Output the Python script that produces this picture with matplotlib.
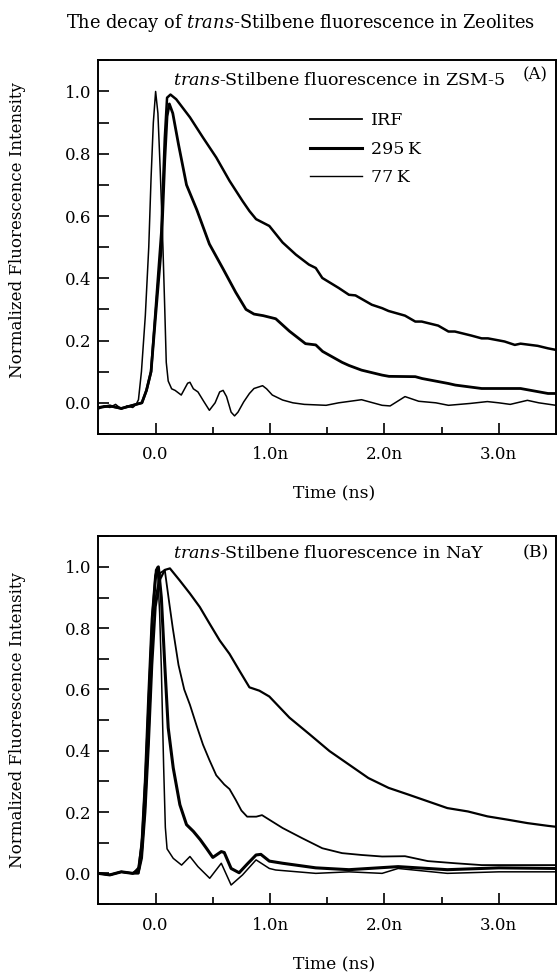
import numpy as np
import matplotlib
matplotlib.use("Agg")
import matplotlib.pyplot as plt
from matplotlib.ticker import MultipleLocator, FixedLocator

plt.rcParams['font.family'] = 'DejaVu Serif'
plt.rcParams['mathtext.fontset'] = 'custom'
plt.rcParams['mathtext.rm'] = 'DejaVu Serif'
plt.rcParams['mathtext.it'] = 'DejaVu Serif:italic'

# ---- panel A: ZSM-5 (time in ns, normalized intensity) ----
irf_a_t = [-0.5, -0.45, -0.4, -0.35, -0.3, -0.25, -0.2, -0.17, -0.15, -0.124, -0.09, -0.06, -0.04, -0.02,
           0.0, 0.02, 0.04, 0.064, 0.08, 0.093, 0.11, 0.14, 0.17, 0.224, 0.28, 0.3, 0.33, 0.37, 0.42, 0.47,
           0.52, 0.56, 0.59, 0.62, 0.66, 0.69, 0.72, 0.77, 0.82, 0.86, 0.935, 0.97, 1.02, 1.11, 1.2, 1.3,
           1.49, 1.6, 1.7, 1.8, 1.98, 2.05, 2.18, 2.3, 2.45, 2.56, 2.75, 2.9, 3.0, 3.1, 3.25, 3.35, 3.5]
irf_a_v = [-0.02, -0.01, -0.015, -0.005, -0.02, -0.01, -0.015, -0.005, 0.01, 0.1, 0.28, 0.5, 0.72, 0.9,
           1.0, 0.93, 0.75, 0.5, 0.3, 0.13, 0.07, 0.045, 0.04, 0.025, 0.063, 0.066, 0.045, 0.035, 0.005, -0.024,
           0.0, 0.035, 0.04, 0.02, -0.03, -0.042, -0.03, 0.003, 0.03, 0.046, 0.055, 0.045, 0.025, 0.009, 0.0, -0.005,
           -0.008, 0.0, 0.005, 0.01, -0.008, -0.01, 0.02, 0.005, 0.0, -0.008, -0.002, 0.004, 0.0, -0.005, 0.008, 0.0, -0.008]

k295_a_t = [-0.5, -0.4, -0.3, -0.2, -0.12, -0.08, -0.04, 0.0, 0.05, 0.08, 0.1, 0.12, 0.15, 0.2, 0.27, 0.36,
            0.47, 0.59, 0.7, 0.79, 0.86, 0.94, 1.05, 1.11, 1.17, 1.31, 1.4, 1.46, 1.63, 1.69, 1.8, 1.98, 2.04,
            2.27, 2.33, 2.56, 2.62, 2.85, 2.9, 3.14, 3.19, 3.43, 3.5]
k295_a_v = [-0.015, -0.01, -0.018, -0.008, 0.0, 0.04, 0.1, 0.28, 0.5, 0.78, 0.92, 0.96, 0.93, 0.83, 0.70, 0.62,
            0.51, 0.43, 0.355, 0.30, 0.285, 0.28, 0.27, 0.25, 0.23, 0.19, 0.186, 0.165, 0.13, 0.12, 0.105, 0.089, 0.085,
            0.084, 0.078, 0.062, 0.057, 0.046, 0.046, 0.046, 0.046, 0.03, 0.03]

k77_a_t = [-0.5, -0.4, -0.3, -0.2, -0.12, -0.08, -0.04, 0.0, 0.05, 0.08, 0.1, 0.13, 0.18, 0.3, 0.414, 0.53,
           0.646, 0.76, 0.82, 0.878, 0.994, 1.11, 1.226, 1.34, 1.4, 1.457, 1.6, 1.69, 1.747, 1.89, 1.98, 2.036,
           2.18, 2.27, 2.326, 2.47, 2.56, 2.616, 2.76, 2.85, 2.905, 3.05, 3.14, 3.19, 3.34, 3.43, 3.5]
k77_a_v = [-0.015, -0.01, -0.018, -0.008, 0.0, 0.04, 0.1, 0.3, 0.55, 0.85, 0.98, 0.99, 0.975, 0.917, 0.852, 0.788,
           0.713, 0.648, 0.616, 0.59, 0.568, 0.515, 0.476, 0.444, 0.433, 0.401, 0.369, 0.347, 0.345, 0.315, 0.304, 0.295,
           0.28, 0.261, 0.261, 0.248, 0.229, 0.229, 0.216, 0.207, 0.207, 0.197, 0.186, 0.19, 0.183, 0.175, 0.17]

# ---- panel B: NaY ----
irf_b_t = [-0.5, -0.4, -0.3, -0.2, -0.15, -0.12, -0.09, -0.06, -0.03, 0.0, 0.015, 0.035, 0.05, 0.07, 0.085,
           0.1, 0.154, 0.227, 0.3, 0.37, 0.473, 0.574, 0.66, 0.76, 0.878, 0.994, 1.05, 1.4, 1.69, 1.98, 2.12,
           2.55, 3.0, 3.5]
irf_b_v = [0.0, -0.005, 0.005, 0.0, 0.02, 0.12, 0.33, 0.6, 0.85, 0.99, 1.0, 0.85, 0.67, 0.35, 0.15,
           0.08, 0.049, 0.027, 0.055, 0.022, -0.016, 0.033, -0.038, -0.005, 0.044, 0.016, 0.011, 0.0, 0.005, 0.0, 0.016,
           0.0, 0.005, 0.005]

fast_b_t = [-0.5, -0.4, -0.3, -0.2, -0.15, -0.12, -0.09, -0.06, -0.03, 0.0, 0.024, 0.05, 0.08, 0.11, 0.154,
            0.212, 0.27, 0.33, 0.39, 0.444, 0.5, 0.574, 0.6, 0.66, 0.73, 0.8, 0.878, 0.92, 0.994, 1.11, 1.4,
            1.69, 2.12, 2.55, 3.0, 3.5]
fast_b_v = [0.0, -0.005, 0.005, 0.0, 0.01, 0.09, 0.3, 0.58, 0.83, 0.97, 1.0, 0.9, 0.68, 0.475, 0.344,
            0.224, 0.159, 0.137, 0.11, 0.082, 0.052, 0.071, 0.068, 0.016, 0.002, 0.03, 0.06, 0.062, 0.04, 0.033, 0.018,
            0.012, 0.022, 0.012, 0.018, 0.016]

mid_b_t = [-0.5, -0.4, -0.3, -0.2, -0.15, -0.12, -0.09, -0.06, -0.03, 0.0, 0.04, 0.08, 0.12, 0.15, 0.2,
           0.25, 0.3, 0.36, 0.414, 0.47, 0.53, 0.6, 0.646, 0.7, 0.75, 0.8, 0.88, 0.93, 0.994, 1.11, 1.28,
           1.457, 1.63, 1.8, 1.98, 2.18, 2.38, 2.62, 2.85, 3.13, 3.5]
mid_b_v = [0.0, -0.005, 0.005, 0.0, 0.0, 0.06, 0.22, 0.45, 0.72, 0.9, 0.98, 0.99, 0.88, 0.8, 0.68,
           0.6, 0.55, 0.48, 0.42, 0.37, 0.32, 0.29, 0.275, 0.24, 0.205, 0.185, 0.185, 0.19, 0.175, 0.148, 0.115,
           0.082, 0.066, 0.06, 0.055, 0.056, 0.04, 0.033, 0.027, 0.027, 0.027]

slow_b_t = [-0.5, -0.4, -0.3, -0.2, -0.15, -0.12, -0.09, -0.06, -0.03, 0.0, 0.04, 0.08, 0.125, 0.21, 0.3,
            0.386, 0.473, 0.56, 0.646, 0.733, 0.82, 0.907, 0.994, 1.17, 1.345, 1.52, 1.69, 1.86, 2.036, 2.21,
            2.38, 2.55, 2.73, 2.9, 3.08, 3.25, 3.43, 3.5]
slow_b_v = [0.0, -0.005, 0.005, 0.0, 0.0, 0.05, 0.2, 0.42, 0.68, 0.87, 0.96, 0.99, 0.995, 0.956, 0.913,
            0.869, 0.814, 0.76, 0.716, 0.661, 0.607, 0.596, 0.577, 0.508, 0.454, 0.399, 0.355, 0.311, 0.279, 0.257,
            0.235, 0.213, 0.202, 0.186, 0.175, 0.164, 0.155, 0.152]

x_ticks = [0.0, 1.0, 2.0, 3.0]
x_labels = ['0.0', '1.0n', '2.0n', '3.0n']

fig = plt.figure(figsize=(5.57, 9.73), dpi=100)
ax_a = fig.add_axes([0.1767, 0.554, 0.8215, 0.384])
ax_b = fig.add_axes([0.1767, 0.0709, 0.8215, 0.378])


def style(ax):
    ax.set_xlim(-0.5, 3.5)
    ax.set_ylim(-0.1, 1.1)
    ax.xaxis.set_major_locator(FixedLocator(x_ticks))
    ax.set_xticklabels(x_labels)
    ax.xaxis.set_minor_locator(FixedLocator([0.5, 1.5, 2.5]))
    ax.yaxis.set_major_locator(MultipleLocator(0.2))
    ax.yaxis.set_minor_locator(MultipleLocator(0.1))
    ax.tick_params(axis='both', which='both', direction='in', top=False, right=False,
                   labelsize=12, width=1.2, color='black')
    ax.tick_params(axis='x', which='major', length=8, pad=9)
    ax.tick_params(axis='x', which='minor', length=5)
    ax.tick_params(axis='y', which='both', length=8, pad=5)
    for s in ax.spines.values():
        s.set_linewidth(1.4)


ax_a.plot(irf_a_t, irf_a_v, color='black', lw=1.1)
ax_a.plot(k295_a_t, k295_a_v, color='black', lw=2.0)
ax_a.plot(k77_a_t, k77_a_v, color='black', lw=1.8)
style(ax_a)
h = ax_a.get_lines()
leg = ax_a.legend(h, ['IRF', '295\u2009K', '77\u2009K'], loc='upper left',
                  bbox_to_anchor=(0.462, 0.862), frameon=False, fontsize=12.5,
                  handlelength=3.0, handletextpad=0.5, labelspacing=0.68,
                  borderpad=0, borderaxespad=0)
leg.get_lines()[0].set_linewidth(1.3)
leg.get_lines()[1].set_linewidth(2.2)
leg.get_lines()[2].set_linewidth(1.0)
ax_a.text(0.164, 0.947, r'$\it{trans}$-Stilbene fluorescence in ZSM-5', transform=ax_a.transAxes,
          fontsize=12.6, va='center', ha='left')
ax_a.text(0.928, 0.962, '(A)', transform=ax_a.transAxes, fontsize=12, va='center', ha='left')

ax_b.plot(irf_b_t, irf_b_v, color='black', lw=1.1)
ax_b.plot(fast_b_t, fast_b_v, color='black', lw=2.2)
ax_b.plot(mid_b_t, mid_b_v, color='black', lw=1.3)
ax_b.plot(slow_b_t, slow_b_v, color='black', lw=1.6)
style(ax_b)
ax_b.text(0.164, 0.954, r'$\it{trans}$-Stilbene fluorescence in NaY', transform=ax_b.transAxes,
          fontsize=12.6, va='center', ha='left')
ax_b.text(0.928, 0.954, '(B)', transform=ax_b.transAxes, fontsize=12.5, va='center', ha='left')

fig.text(301 / 557, 1 - 23 / 973, r'The decay of $\it{trans}$-Stilbene fluorescence in Zeolites',
         ha='center', va='center', fontsize=12.8)
fig.text(18 / 557, 1 - 230 / 973, 'Normalized Fluorescence Intensity', rotation=90,
         ha='center', va='center', fontsize=12)
fig.text(18 / 557, 1 - 720 / 973, 'Normalized Fluorescence Intensity', rotation=90,
         ha='center', va='center', fontsize=12)
fig.text(334 / 557, 1 - 494 / 973, 'Time (ns)', ha='center', va='center', fontsize=12.3)
fig.text(334 / 557, 1 - 965 / 973, 'Time (ns)', ha='center', va='center', fontsize=12.3)

fig.savefig('out.png', dpi=100)
